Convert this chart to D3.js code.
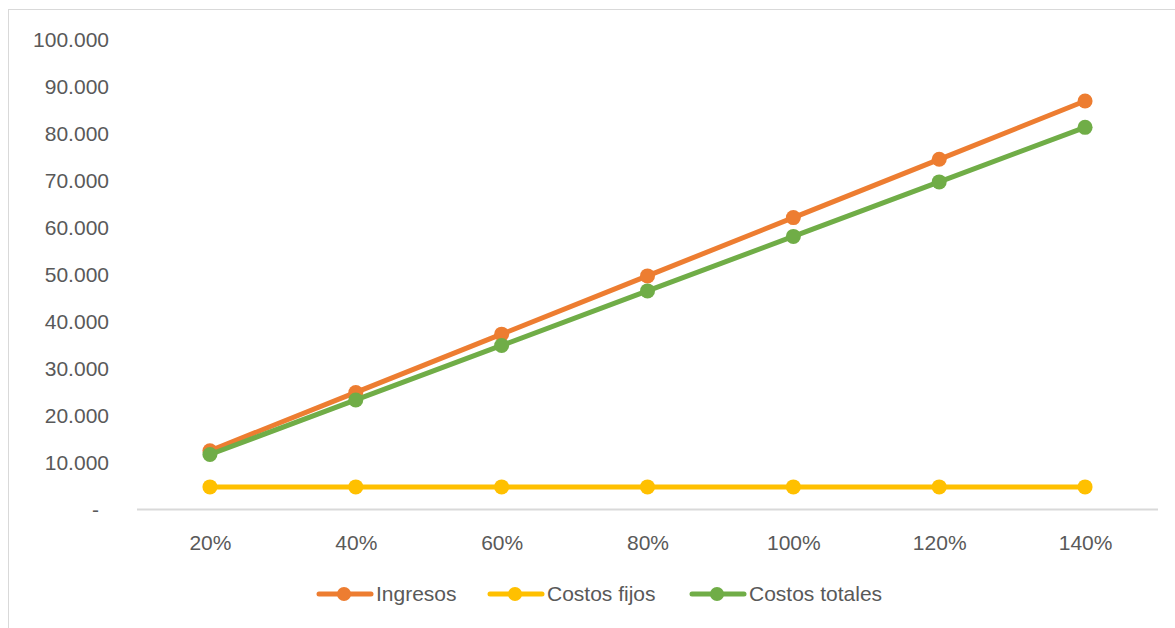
<!DOCTYPE html>
<html>
<head>
<meta charset="utf-8">
<script src="https://cdn.jsdelivr.net/npm/d3@7"></script>
<style>
  html, body { margin: 0; padding: 0; background: #ffffff; }
  svg { display: block; }
  text { font-family: "Liberation Sans", Arial, sans-serif; fill: #595959; }
</style>
</head>
<body>
<svg id="chart" width="1175" height="628"></svg>
<script>
// Break-even data: revenue, fixed costs and total costs by activity level
const categories = ["20%", "40%", "60%", "80%", "100%", "120%", "140%"];
const ingresos = [12400, 24800, 37200, 49600, 62000, 74400, 86800];
const costosFijos = [4700, 4700, 4700, 4700, 4700, 4700, 4700];
const costosTotales = [11600, 23200, 34800, 46400, 58000, 69600, 81200];
const yTicks = [0, 10000, 20000, 30000, 40000, 50000, 60000, 70000, 80000, 90000, 100000];

const seriesNames = ["Ingresos", "Costos fijos", "Costos totales"];
const seriesColors = ["#ED7D31", "#FFC000", "#70AD47"];
const seriesValues = [ingresos, costosFijos, costosTotales];

const FONT = "21px";
const svg = d3.select("#chart");

// Outer chart frame
svg.append("rect")
  .attr("x", 8.5).attr("y", 9.5)
  .attr("width", 1190).attr("height", 640)
  .attr("fill", "none").attr("stroke", "#D9D9D9").attr("stroke-width", 1);

const plot = { left: 137, right: 1158, top: 39, bottom: 509 };

const x = d3.scalePoint()
  .domain(categories)
  .range([plot.left, plot.right])
  .padding(0.5);

const y = d3.scaleLinear()
  .domain([0, 100000])
  .range([plot.bottom, plot.top]);

const locale = d3.formatLocale({ decimal: ",", thousands: ".", grouping: [3], currency: ["", ""] });
const fmt = locale.format(",.0f");

// Y axis labels (no axis line, no gridlines)
const yAxis = svg.append("g")
  .attr("transform", `translate(${plot.left - 28},0)`)
  .call(d3.axisLeft(y).tickValues(yTicks).tickSize(0).tickPadding(0)
    .tickFormat(d => d === 0 ? "-" : fmt(d)));
yAxis.select(".domain").remove();
yAxis.selectAll("text")
  .style("font-size", FONT)
  .attr("fill", "#595959")
  .attr("dy", "0.35em")
  .attr("x", d => d === 0 ? -10 : 0);

// X axis: baseline and category labels
const xAxis = svg.append("g")
  .attr("transform", `translate(0,${plot.bottom})`)
  .call(d3.axisBottom(x).tickSize(0).tickPadding(26));
xAxis.select(".domain")
  .attr("stroke", "#D9D9D9").attr("stroke-width", 2)
  .attr("d", `M${plot.left},0.5H${plot.right}`);
xAxis.selectAll("text")
  .style("font-size", FONT)
  .attr("fill", "#595959");

// Series lines and markers
const line = d3.line()
  .x((d, i) => x(categories[i]))
  .y(d => y(d));

seriesValues.forEach((vals, s) => {
  const g = svg.append("g");
  g.append("path")
    .datum(vals)
    .attr("d", line)
    .attr("fill", "none")
    .attr("stroke", seriesColors[s])
    .attr("stroke-width", 5)
    .attr("stroke-linejoin", "round");
  g.selectAll("circle")
    .data(vals)
    .join("circle")
    .attr("cx", (d, i) => x(categories[i]))
    .attr("cy", d => y(d))
    .attr("r", 7.5)
    .attr("fill", seriesColors[s]);
});

// Legend
const legendX = [317, 488, 690];
const legendY = 594;
const legend = svg.append("g");
seriesNames.forEach((name, s) => {
  const g = legend.append("g").attr("transform", `translate(${legendX[s]},${legendY})`);
  g.append("line")
    .attr("x1", 2).attr("x2", 54)
    .attr("y1", 0).attr("y2", 0)
    .attr("stroke", seriesColors[s])
    .attr("stroke-width", 5)
    .attr("stroke-linecap", "round");
  g.append("circle")
    .attr("cx", 27).attr("cy", 0).attr("r", 7)
    .attr("fill", seriesColors[s]);
  g.append("text")
    .attr("x", 59).attr("y", 0).attr("dy", "0.35em")
    .style("font-size", FONT)
    .text(name);
});
</script>
</body>
</html>
